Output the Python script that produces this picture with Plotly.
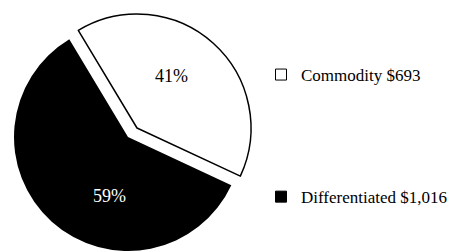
import plotly.graph_objects as go

# Data
names = ["Commodity", "Differentiated"]
values = [693, 1016]
legend_labels = [f"{n} ${v:,}" for n, v in zip(names, values)]
total = sum(values)
pct_labels = [f"{round(100 * v / total)}%" for v in values]

# the page body has an 8px margin: figure covers window pixels 8..460 x 8..252
OFF = 8
W, H = 460 - OFF, 252 - OFF
FONT = "Liberation Serif, Times New Roman, serif"
CLEAR = "rgba(0,0,0,0)"


def fx(px):
    return (px - OFF) / W


def fy(py):
    return 1 - (py - OFF) / H


def dom(cx, cy, r):
    return dict(x=[fx(cx - r), fx(cx + r)], y=[fy(cy + r), fy(cy - r)])


R = 114
common = dict(labels=names, values=values, sort=False, direction="clockwise",
              rotation=-31, textinfo="none", hoverinfo="skip", showlegend=False)

fig = go.Figure()
# base pie: differentiated slice (not pulled)
fig.add_trace(go.Pie(**common, domain=dom(128, 137, R),
                     marker=dict(colors=[CLEAR, "black"],
                                 line=dict(color=[CLEAR, "black"], width=[0, 0]))))
# exploded slice: commodity
fig.add_trace(go.Pie(**common, domain=dom(137, 128, R),
                     marker=dict(colors=["white", CLEAR],
                                 line=dict(color=["black", CLEAR], width=[1.5, 0]))))

# legend entries
leg_colors = ["white", "black"]
for lab, col in zip(legend_labels, leg_colors):
    fig.add_trace(go.Scatter(x=[None], y=[None], mode="markers", name=lab,
                             legendgroup=lab,
                             marker=dict(symbol="square", size=11, color=col,
                                         line=dict(color="black", width=1))))

# percentage labels
pct_pos = [(171, 76), (109, 196)]
pct_cols = ["black", "white"]
for t, (px, py), c in zip(pct_labels, pct_pos, pct_cols):
    fig.add_annotation(x=fx(px), y=fy(py), xref="paper", yref="paper",
                       xanchor="center", yanchor="middle",
                       text=t, showarrow=False, font=dict(family=FONT, size=18, color=c))

fig.update_layout(
    width=W, height=H, margin=dict(l=0, r=0, t=0, b=0, autoexpand=False),
    paper_bgcolor="white", plot_bgcolor="white",
    xaxis=dict(visible=False), yaxis=dict(visible=False),
    showlegend=True,
    legend=dict(x=fx(261), y=fy(57), xanchor="left", yanchor="top",
                tracegroupgap=97, font=dict(family=FONT, size=17, color="black"),
                bgcolor=CLEAR),
)

fig.write_html("out.html")
